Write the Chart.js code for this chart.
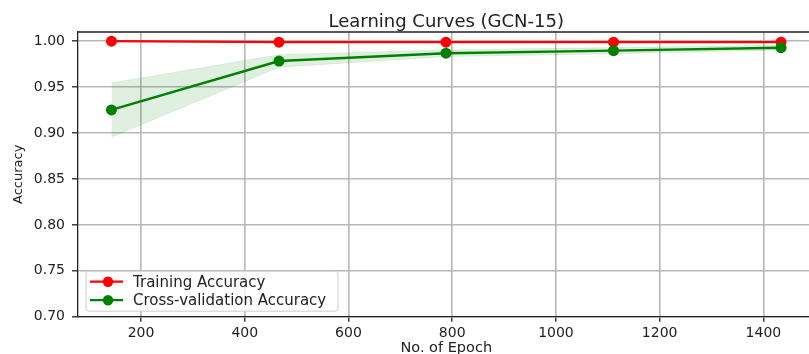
<!DOCTYPE html>
<html>
<head>
<meta charset="utf-8">
<script src="https://cdn.jsdelivr.net/npm/chart.js@4.4.1/dist/chart.umd.min.js"></script>
<style>
  html, body { margin: 0; padding: 0; background: #ffffff; overflow: hidden; width: 809px; height: 354px; }
  #wrap { position: relative; width: 820px; height: 360px; }
  canvas { display: block; }
</style>
</head>
<body>
<div id="wrap"><canvas id="c" width="820" height="360"></canvas></div>
<script>
// ---- data ----
const chartTitle = 'Learning Curves (GCN-15)';
const xLabel = 'No. of Epoch';
const yLabel = 'Accuracy';
const epochs = [143, 466, 788, 1111, 1434];
const trainAcc = [1.0, 0.9989, 0.9989, 0.9989, 0.9989];
const cvAcc = [0.9251, 0.9784, 0.9869, 0.9897, 0.9929];
const cvUpper = [0.9545, 0.9852, 0.9905, 0.9930, 0.9955];
const cvLower = [0.8957, 0.9716, 0.9833, 0.9864, 0.9903];
const xTicks = [200, 400, 600, 800, 1000, 1200, 1400];
const yTicks = [0.70, 0.75, 0.80, 0.85, 0.90, 0.95, 1.00];
const xRange = [78.5, 1498.5];
const yRange = [0.70, 1.01];

const FONT = "'DejaVu Sans', sans-serif";
const TEXT = '#222222';
const pts = (ys) => epochs.map((x, i) => ({ x: x, y: ys[i] }));

const frameAndLegend = {
  id: 'frameAndLegend',
  afterDatasetsDraw(chart) {
    const { ctx, chartArea: a } = chart;
    ctx.save();
    // top spine (left/bottom spines are axis borders)
    ctx.strokeStyle = TEXT;
    ctx.lineWidth = 1.3;
    ctx.beginPath();
    ctx.moveTo(a.left, a.top);
    ctx.lineTo(a.right, a.top);
    ctx.moveTo(a.right, a.top);
    ctx.lineTo(a.right, a.bottom);
    ctx.stroke();

    // legend box (lower left)
    const bx = a.left + 8, by = a.bottom - 45.5, bw = 252, bh = 40;
    ctx.fillStyle = 'rgba(255,255,255,0.8)';
    ctx.strokeStyle = '#cccccc';
    ctx.lineWidth = 1;
    ctx.beginPath();
    ctx.roundRect(bx, by, bw, bh, 3);
    ctx.fill();
    ctx.stroke();
    const items = [chart.data.datasets[0], chart.data.datasets[1]];
    const rows = [by + 10.5, by + 29];
    ctx.font = '15px ' + FONT;
    ctx.textBaseline = 'middle';
    ctx.textAlign = 'left';
    items.forEach((ds, i) => {
      const y = rows[i];
      ctx.strokeStyle = ds.borderColor;
      ctx.lineWidth = 2.2;
      ctx.beginPath();
      ctx.moveTo(bx + 4, y);
      ctx.lineTo(bx + 37, y);
      ctx.stroke();
      ctx.fillStyle = ds.borderColor;
      ctx.beginPath();
      ctx.arc(bx + 22, y, 5.2, 0, Math.PI * 2);
      ctx.fill();
      ctx.fillStyle = TEXT;
      ctx.fillText(ds.label, bx + 47, y + 1);
    });

    // title centred over the plot area
    ctx.font = '18px ' + FONT;
    ctx.fillStyle = TEXT;
    ctx.textAlign = 'center';
    ctx.textBaseline = 'alphabetic';
    ctx.fillText(chartTitle, (a.left + a.right) / 2, 26.5);
    ctx.restore();
  }
};

new Chart(document.getElementById('c'), {
  type: 'line',
  data: {
    datasets: [
      { label: 'Training Accuracy', data: pts(trainAcc), borderColor: '#ff0000', backgroundColor: '#ff0000',
        borderWidth: 2.2, pointRadius: 5.5, pointBorderWidth: 0, pointBackgroundColor: '#ff0000', fill: false, order: 1 },
      { label: 'Cross-validation Accuracy', data: pts(cvAcc), borderColor: '#008000', backgroundColor: '#008000',
        borderWidth: 2.4, pointRadius: 5.5, pointBorderWidth: 0, pointBackgroundColor: '#008000', fill: false, order: 0 },
      { label: 'cv upper', data: pts(cvUpper), borderColor: 'rgba(0,128,0,0.1)', borderWidth: 1,
        backgroundColor: 'rgba(0,128,0,0.12)', pointRadius: 0, fill: '+1', order: 2 },
      { label: 'cv lower', data: pts(cvLower), borderColor: 'rgba(0,128,0,0.1)', borderWidth: 1,
        pointRadius: 0, fill: false, order: 3 }
    ]
  },
  options: {
    responsive: false,
    animation: false,
    devicePixelRatio: 1,
    layout: { padding: { top: 32, left: 0, right: 0, bottom: 0 } },
    plugins: { legend: { display: false }, title: { display: false }, tooltip: { enabled: false } },
    elements: { line: { tension: 0 } },
    scales: {
      x: {
        type: 'linear', min: xRange[0], max: xRange[1],
        afterBuildTicks: (s) => { s.ticks = xTicks.map(v => ({ value: v })); },
        afterFit: (s) => { s.height = 360 - 316.7; },
        ticks: { color: TEXT, font: { family: FONT, size: 14 }, padding: 3, maxRotation: 0, autoSkip: false,
                 callback: (v) => String(v) },
        grid: { color: '#b8b8b8', lineWidth: 1.6, tickColor: TEXT, tickLength: 5, tickWidth: 1.3 },
        border: { display: true, color: TEXT, width: 1.3 },
        title: { display: true, text: xLabel, color: TEXT, font: { family: FONT, size: 14.5 },
                 padding: { top: 0, bottom: 2.8 } }
      },
      y: {
        type: 'linear', min: yRange[0], max: yRange[1],
        afterBuildTicks: (s) => { s.ticks = yTicks.map(v => ({ value: v })); },
        afterFit: (s) => { s.width = 78; },
        ticks: { color: TEXT, font: { family: FONT, size: 14 }, padding: 7, autoSkip: false,
                 callback: (v) => Number(v).toFixed(2) },
        grid: { color: '#b8b8b8', lineWidth: 1.6, tickColor: TEXT, tickLength: 6, tickWidth: 1.3 },
        border: { display: true, color: TEXT, width: 1.3 },
        title: { display: true, text: yLabel, color: TEXT, font: { family: FONT, size: 13 },
                 padding: { top: 10.5, bottom: 0 } }
      }
    }
  },
  plugins: [frameAndLegend]
});
</script>
</body>
</html>
